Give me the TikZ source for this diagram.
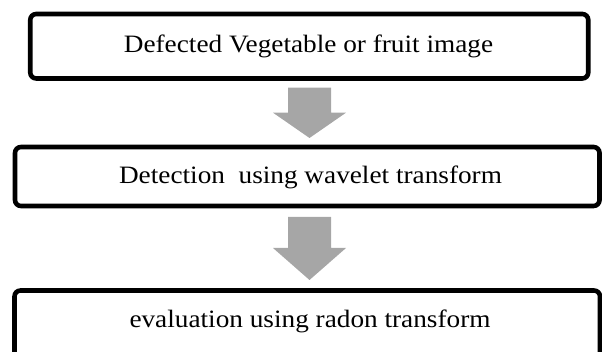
\documentclass[tikz,border=0pt]{standalone}
\usepackage{fontspec}
\setmainfont{Liberation Serif}[FakeStretch=1.09]
\definecolor{arrowgray}{HTML}{A6A6A6}
\tikzset{
  stage/.style={draw=black, line width=4.6pt, rounded corners=6pt, fill=white, inner sep=0pt},
  stagetext/.style={font=\fontsize{25}{30}\selectfont, anchor=base, inner sep=0pt},
  flowarrow/.style={fill=arrowgray, draw=none}
}
\begin{document}
\begin{tikzpicture}[x=1pt,y=-1pt]
  \useasboundingbox (0,0) rectangle (602,352);

  % process stages
  \node[stage, minimum width=558pt, minimum height=64.5pt] (b1) at (309.25,46.25) {};
  \node[stage, minimum width=584.5pt, minimum height=59pt] (b2) at (307.25,176.5) {};
  \node[stage, minimum width=585.5pt, minimum height=71.5pt] (b3) at (307.25,326.25) {};

  % stage labels
  \node[stagetext] (t1) at (308.5,53) {Defected Vegetable or fruit image};
  \node[stagetext] (t2) at (310.5,184) {Detection\ \ using wavelet transform};
  \node[stagetext] (t3) at (310,327) {evaluation using radon transform};

  % block arrows between the stages
  \coordinate (a1top) at (309.5,87.7);
  \coordinate (a1tip) at (309.5,138);
  \coordinate (a2top) at (309.5,217);
  \coordinate (a2tip) at (309.5,280);

  \fill[flowarrow] (a1top) ++(-21.5,0) -- ++(43,0) -- ++(0,25) -- ++(15,0)
    -- (a1tip) -- ++(-36.5,-25.3) -- ++(15,0) -- cycle;
  \fill[flowarrow] (a2top) ++(-21.5,0) -- ++(43,0) -- ++(0,31) -- ++(15,0)
    -- (a2tip) -- ++(-36.5,-32) -- ++(15,0) -- cycle;
\end{tikzpicture}
\end{document}
